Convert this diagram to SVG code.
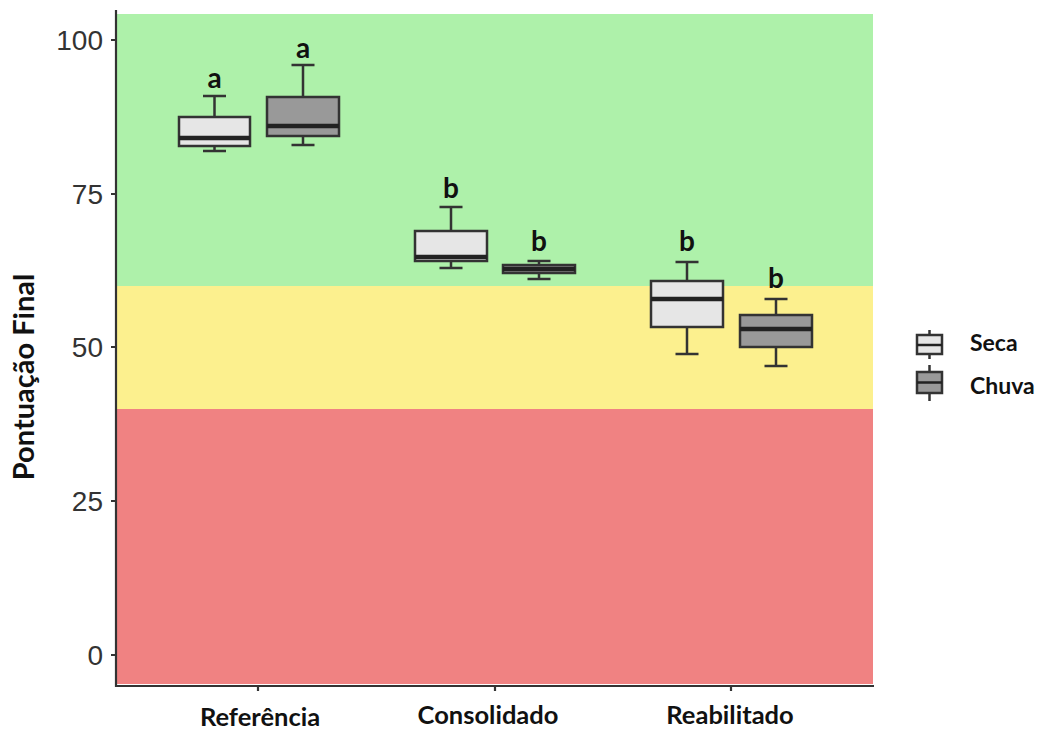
<svg xmlns="http://www.w3.org/2000/svg" width="1037" height="729" viewBox="0 0 1037 729">
<style>
.box{stroke:#333;stroke-width:2.5}
.seca{fill:#e6e6e6}
.chuva{fill:#999999}
.med{stroke:#222;stroke-width:4.5}
.wh{stroke:#333;stroke-width:2.5;fill:none}
.axis{stroke:#333;stroke-width:2.2;fill:none}
.tick{font-family:"Liberation Sans",Arial,sans-serif;font-size:28px;fill:#333;text-anchor:end}
.cat{font-family:Lato,"Liberation Sans",sans-serif;font-weight:bold;font-size:25.5px;fill:#111;text-anchor:middle}
.sig{font-family:Lato,"Liberation Sans",sans-serif;font-weight:bold;font-size:28px;fill:#111;text-anchor:middle}
.leg{font-family:Lato,"Liberation Sans",sans-serif;font-weight:bold;font-size:23px;fill:#111}
</style>
<rect width="1037" height="729" fill="#ffffff"/>
<g id="panel">
<rect x="117" y="14" width="756" height="272" fill="#aef1aa"/>
<rect x="117" y="286" width="756" height="123" fill="#fcf08e"/>
<rect x="117" y="409" width="756" height="275" fill="#f08282"/>
</g>
<g id="axes">
<path class="axis" d="M116,10 V686 H874"/>
<path class="axis" d="M111,40 H116 M111,194 H116 M111,347 H116 M111,501 H116 M111,655 H116"/>
<path class="axis" d="M258,686 V691 M495,686 V691 M731,686 V691"/>
<text class="tick" x="103" y="50">100</text>
<text class="tick" x="103" y="204">75</text>
<text class="tick" x="103" y="357">50</text>
<text class="tick" x="103" y="511">25</text>
<text class="tick" x="103" y="665">0</text>
<text class="cat" x="260" y="726">Referência</text>
<text class="cat" x="488" y="724">Consolidado</text>
<text class="cat" x="730" y="724">Reabilitado</text>
<text font-family="Lato,'Liberation Sans',sans-serif" font-weight="bold" font-size="29" fill="#111" text-anchor="middle" transform="translate(34,377) rotate(-90)">Pontuação Final</text>
</g>
<g id="ref-seca">
<path class="wh" d="M214.5,96 V117 M214.5,146 V151 M203,96 H226 M203,151 H226"/>
<rect class="box seca" x="179" y="117" width="71" height="29"/>
<line class="med" x1="179" y1="138" x2="250" y2="138"/>
<text class="sig" x="214.5" y="88">a</text>
</g>
<g id="ref-chuva">
<path class="wh" d="M303,65 V97 M303,136 V145 M291.5,65 H314.5 M291.5,145 H314.5"/>
<rect class="box chuva" x="267" y="97" width="72" height="39"/>
<line class="med" x1="267" y1="126" x2="339" y2="126"/>
<text class="sig" x="303" y="58">a</text>
</g>
<g id="cons-seca">
<path class="wh" d="M451,207 V231 M451,261 V268 M439.5,207 H462.5 M439.5,268 H462.5"/>
<rect class="box seca" x="415" y="231" width="72" height="30"/>
<line class="med" x1="415" y1="257" x2="487" y2="257"/>
<text class="sig" x="451" y="198">b</text>
</g>
<g id="cons-chuva">
<path class="wh" d="M539,261 V265 M539,273 V279 M527.5,261 H550.5 M527.5,279 H550.5"/>
<rect class="box chuva" x="503" y="265" width="72" height="8"/>
<line class="med" x1="503" y1="269" x2="575" y2="269"/>
<text class="sig" x="539" y="251">b</text>
</g>
<g id="reab-seca">
<path class="wh" d="M687,262 V281 M687,327 V354 M675.5,262 H698.5 M675.5,354 H698.5"/>
<rect class="box seca" x="651" y="281" width="72" height="46"/>
<line class="med" x1="651" y1="299" x2="723" y2="299"/>
<text class="sig" x="687" y="251">b</text>
</g>
<g id="reab-chuva">
<path class="wh" d="M776,299 V315 M776,347 V366 M764.5,299 H787.5 M764.5,366 H787.5"/>
<rect class="box chuva" x="740" y="315" width="72" height="32"/>
<line class="med" x1="740" y1="329" x2="812" y2="329"/>
<text class="sig" x="776" y="288">b</text>
</g>
<g id="legend">
<path class="wh" d="M929.5,330 V359"/>
<rect class="box seca" x="917" y="335" width="25" height="19"/>
<line class="med" x1="917" y1="345" x2="942" y2="345" style="stroke-width:2.5"/>
<text class="leg" x="970" y="351">Seca</text>
<path class="wh" d="M929.5,365 V401"/>
<rect class="box chuva" x="917" y="372" width="25" height="21"/>
<line class="med" x1="917" y1="382.5" x2="942" y2="382.5" style="stroke-width:2.5"/>
<text class="leg" x="970" y="394">Chuva</text>
</g>
</svg>
